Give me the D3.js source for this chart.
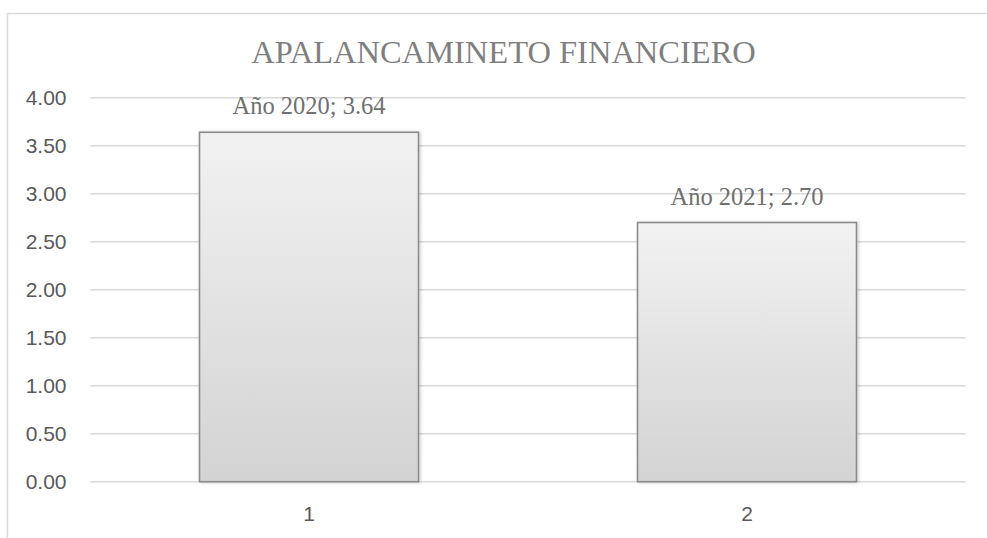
<!DOCTYPE html>
<html lang="es">
<head>
  <meta charset="UTF-8">
  <title>Apalancamiento financiero</title>
  <script src="https://d3js.org/d3.v7.min.js"></script>
  <style>
    body { margin: 0; background: #fff; }
    .grid line { stroke: #d9d9d9; stroke-width: 1.5px; }
    .ytick text, .xtick text { font-family: "Liberation Sans", Arial, sans-serif; font-size: 21px; fill: #595959; }
    .title { font-family: "Liberation Serif", "Times New Roman", serif; font-size: 32.5px; fill: #7f7f7f; }
    .label { font-family: "Liberation Serif", "Times New Roman", serif; font-size: 24.5px; fill: #707070; }
    .bar { stroke: #8c8c8c; stroke-width: 1.6px; }
  </style>
</head>
<body>
<svg id="chart" width="987" height="538"></svg>
<script>
  // data
  const categories = ["1", "2"];
  const years = ["Año 2020", "Año 2021"];
  const values = [3.64, 2.70];
  const yTicks = [0, 0.5, 1, 1.5, 2, 2.5, 3, 3.5, 4];
  const titleText = "APALANCAMINETO FINANCIERO";

  const svg = d3.select("#chart");
  const margin = { top: 97.7, left: 90, right: 21, bottom: 56.3 };
  const W = 987, H = 538;

  const defs = svg.append("defs");
  const grad = defs.append("linearGradient").attr("id", "barGrad")
    .attr("x1", 0).attr("y1", 0).attr("x2", 0).attr("y2", 1);
  grad.append("stop").attr("offset", "0%").attr("stop-color", "#f2f2f2");
  grad.append("stop").attr("offset", "100%").attr("stop-color", "#d3d3d3");
  const shadow = defs.append("filter").attr("id", "shadow")
    .attr("x", "-10%").attr("y", "-10%").attr("width", "130%").attr("height", "130%");
  shadow.append("feDropShadow").attr("dx", 1.5).attr("dy", 0.5)
    .attr("stdDeviation", 1.5).attr("flood-color", "#000").attr("flood-opacity", 0.18);

  // outer chart border (extends past the right and bottom edges)
  svg.append("rect")
    .attr("x", 7.5).attr("y", 13.5).attr("width", 1000).attr("height", 540)
    .attr("fill", "none").attr("stroke", "#d9d9d9").attr("stroke-width", 1.5);

  const x = d3.scaleBand()
    .domain(categories)
    .range([margin.left, W - margin.right])
    .paddingInner(0.5)
    .paddingOuter(0.25);

  const y = d3.scaleLinear()
    .domain([0, 4])
    .range([H - margin.bottom, margin.top]);

  // gridlines
  svg.append("g").attr("class", "grid")
    .selectAll("line").data(yTicks).join("line")
    .attr("x1", margin.left).attr("x2", W - margin.right)
    .attr("y1", d => y(d)).attr("y2", d => y(d));

  // y labels
  svg.append("g").attr("class", "ytick")
    .selectAll("text").data(yTicks).join("text")
    .attr("x", 66.5).attr("y", d => y(d))
    .attr("text-anchor", "end").attr("dominant-baseline", "central")
    .text(d => d3.format(".2f")(d));

  // x labels
  svg.append("g").attr("class", "xtick")
    .selectAll("text").data(categories).join("text")
    .attr("x", d => x(d) + x.bandwidth() / 2)
    .attr("y", 521)
    .attr("text-anchor", "middle")
    .text(d => d);

  // bars
  svg.append("g")
    .selectAll("rect").data(values).join("rect")
    .attr("class", "bar")
    .attr("x", (d, i) => x(categories[i]))
    .attr("y", d => y(d))
    .attr("width", x.bandwidth())
    .attr("height", d => y(0) - y(d))
    .attr("fill", "url(#barGrad)")
    .attr("filter", "url(#shadow)");

  // data labels
  svg.append("g")
    .selectAll("text").data(values).join("text")
    .attr("class", "label")
    .attr("x", (d, i) => x(categories[i]) + x.bandwidth() / 2)
    .attr("y", d => y(d) - 18)
    .attr("text-anchor", "middle")
    .text((d, i) => years[i] + "; " + d3.format(".2f")(d));

  // title
  svg.append("text").attr("class", "title")
    .attr("x", 503.5).attr("y", 63)
    .attr("text-anchor", "middle")
    .text(titleText);
</script>
</body>
</html>
